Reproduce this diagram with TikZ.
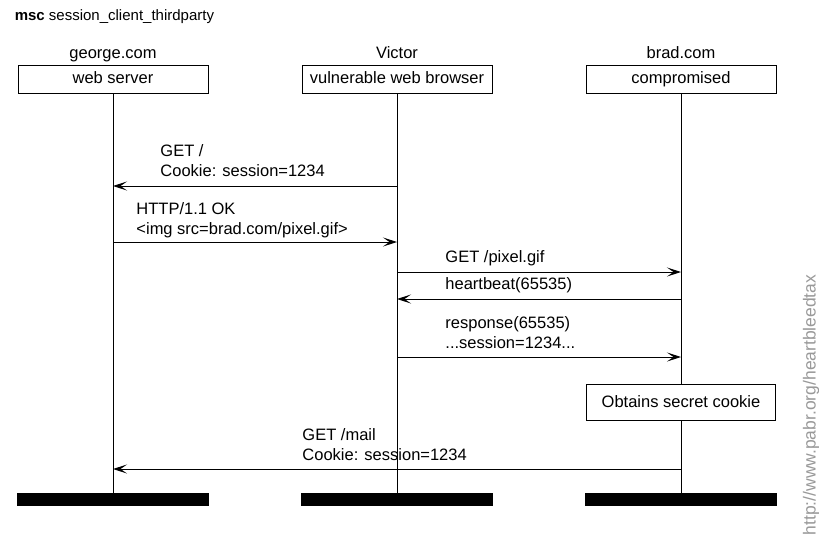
\documentclass[tikz,border=0pt]{standalone}
\usepackage{fontspec}
\setmainfont{Liberation Sans}
\usetikzlibrary{arrows.meta,positioning}

\tikzset{
  inst/.style={draw, minimum width=190pt, minimum height=28pt, inner sep=0pt,
    text height=12pt, text depth=3.5pt},
  endbar/.style={fill=black, minimum width=192pt, minimum height=13pt, inner sep=0pt},
  msg/.style={-{Stealth[length=14pt,width=9pt,inset=6.5pt]}},
  lbl/.style={anchor=west, align=left, inner sep=0pt},
}

\begin{document}
\begin{tikzpicture}[x=1pt, y=-1pt, line width=0.9pt, font=\fontsize{16.5}{20}\selectfont]
  \useasboundingbox (0,0) rectangle (819,550);
  \node[anchor=base west, font=\fontsize{15}{17}\selectfont] (title) at (11,20)
    {\textbf{msc} session\_client\_thirdparty};
  % instances: x = 113, 397, 681
  \node[inst] (gbox) at (113,79) {web server};
  \node[inst] (vbox) at (397,79) {vulnerable web browser};
  \node[inst] (bbox) at (681,79) {compromised};
  \node[anchor=base] (gname) at (113,58) {george.com};
  \node[anchor=base] (vname) at (397,58) {Victor};
  \node[anchor=base] (bname) at (681,58) {brad.com};
  % end of instances
  \node[endbar] (gend) at (113,499.5) {};
  \node[endbar] (vend) at (397,499.5) {};
  \node[endbar] (bend) at (681,499.5) {};
  % local action on brad.com
  \node[draw, minimum width=189pt, minimum height=36pt, inner sep=0pt] (act) at (681,402) {Obtains secret cookie};
  % lifelines
  \draw (gbox) -- (gend);
  \draw (vbox) -- (vend);
  \draw (bbox) -- (act);
  \draw (act) -- (bend);
  % messages
  \coordinate (m1) at (0,186);
  \coordinate (m2) at (0,242);
  \coordinate (m3) at (0,272);
  \coordinate (m4) at (0,299);
  \coordinate (m5) at (0,357);
  \coordinate (m6) at (0,469);
  \draw[msg] (vbox |- m1) -- (gbox |- m1);
  \draw[msg] (gbox |- m2) -- (vbox |- m2);
  \draw[msg] (vbox |- m3) -- (bbox |- m3);
  \draw[msg] (bbox |- m4) -- (vbox |- m4);
  \draw[msg] (vbox |- m5) -- (bbox |- m5);
  \draw[msg] (bbox |- m6) -- (gbox |- m6);
  \node[lbl] (t1) at (160,161) {GET /\\Cookie: session=1234};
  \node[lbl] (t2) at (136,220) {HTTP/1.1 OK\\<img src=brad.com/pixel.gif>};
  \node[lbl, anchor=base west] (t3) at (445,262) {GET /pixel.gif};
  \node[lbl, anchor=base west] (t4) at (445,289) {heartbeat(65535)};
  \node[lbl] (t5) at (445,333) {response(65535)\\...session=1234...};
  \node[lbl] (t6) at (302,445) {GET /mail\\Cookie: session=1234};
  % url down the right edge
  \node[rotate=90, text=black!40, font=\fontsize{17.5}{20}\selectfont] (url) at (811,405) {http://www.pabr.org/heartbleedtax};
\end{tikzpicture}
\end{document}
